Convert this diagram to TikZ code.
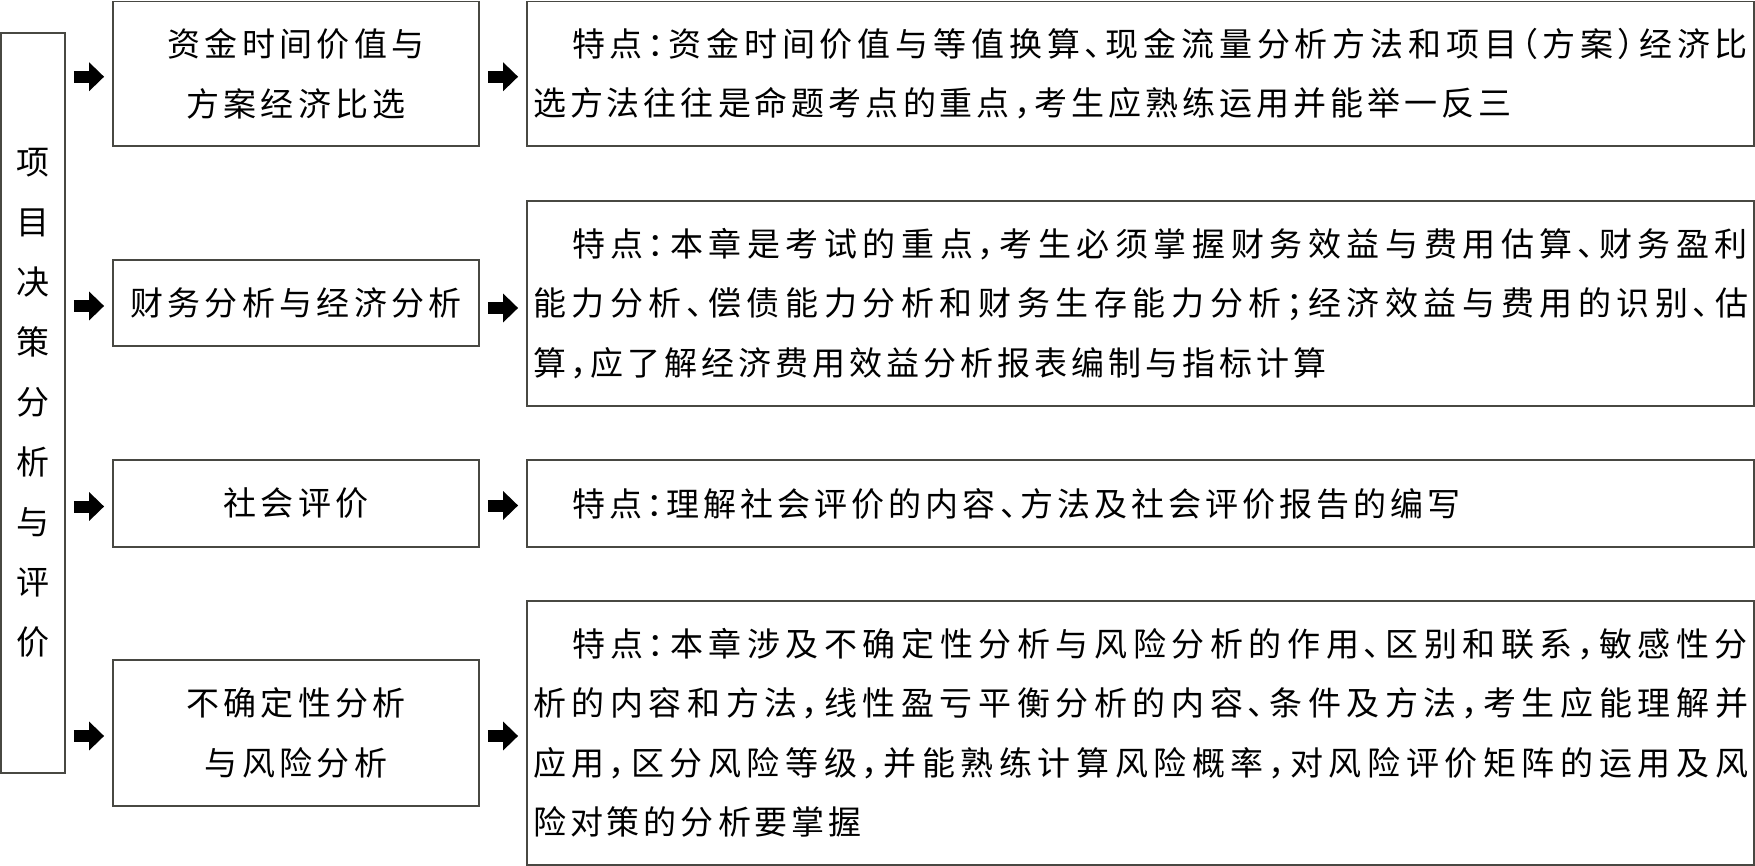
\documentclass[tikz,border=0pt]{standalone}
\usepackage{fontspec}
\setmainfont{Noto Sans CJK SC}[LetterSpace=13,RawFeature={+halt}]
\usetikzlibrary{arrows.meta,calc}
\XeTeXlinebreaklocale "zh"
\XeTeXlinebreakskip=4pt plus 8pt
\definecolor{boxgray}{RGB}{72,72,66}
\tikzset{
  box/.style={draw=boxgray, line width=1.8pt, inner sep=0pt, fill=white},
  midbox/.style={box, align=center, minimum width=366pt, font=\fontsize{33}{59.5}\selectfont},
  descbox/.style={box, text width=1215pt, inner xsep=6pt, inner ysep=0pt, align=justify, font=\fontsize{33}{59.5}\selectfont},
  leftbox/.style={box, align=center, minimum width=64pt, minimum height=740pt, font=\fontsize{33}{60}\selectfont},
  blockarrow/.style={line width=12pt, -{Triangle[length=15pt,width=28pt]}, black, shorten <=8pt, shorten >=8pt},
}
\begin{document}
\begin{tikzpicture}[x={(1pt,0)}, y={(0,-1pt)}]
\useasboundingbox[fill=white] (0,0) rectangle (1755,866);
% left vertical box
\node[leftbox] (L) at (33,403) {项\\目\\决\\策\\分\\析\\与\\评\\价};
% middle boxes
\node[midbox, minimum height=144.5pt] (B1) at (296,73.75) {资金时间价值与\\方案经济比选};
\node[midbox, minimum height=86pt] (B2) at (296,303) {财务分析与经济分析};
\node[midbox, minimum height=87pt] (B3) at (296,503.5) {社会评价};
\node[midbox, minimum height=146pt] (B4) at (296,733) {不确定性分析\\与风险分析};
% description boxes
\node[descbox, minimum height=144.5pt] (R1) at (1140.5,73.75) {\noindent\hspace*{39pt}特点：资金时间价值与等值换算、现金流量分析方法和项目（方案）经济比\linebreak 选方法往往是命题考点的重点，考生应熟练运用并能举一反三};
\node[descbox, minimum height=205pt] (R2) at (1140.5,303.5) {\noindent\hspace*{39pt}特点：本章是考试的重点，考生必须掌握财务效益与费用估算、财务盈利\linebreak 能力分析、偿债能力分析和财务生存能力分析；经济效益与费用的识别、估\linebreak 算，应了解经济费用效益分析报表编制与指标计算};
\node[descbox, minimum height=87pt] (R3) at (1140.5,503.5) {\noindent\hspace*{39pt}特点：理解社会评价的内容、方法及社会评价报告的编写};
\node[descbox, minimum height=264pt] (R4) at (1140.5,733) {\noindent\hspace*{39pt}特点：本章涉及不确定性分析与风险分析的作用、区别和联系，敏感性分\linebreak 析的内容和方法，线性盈亏平衡分析的内容、条件及方法，考生应能理解并\linebreak 应用，区分风险等级，并能熟练计算风险概率，对风险评价矩阵的运用及风\linebreak 险对策的分析要掌握};
% arrows left -> middle
\foreach \b in {B1,B2,B3,B4}{
  \draw[blockarrow] ($(L.east |- \b.west)+(0,3)$) -- ($(\b.west)+(0,3)$);
}
% arrows middle -> right
\draw[blockarrow] ($(B1.east)+(0,3)$) -- ($(B1.east -| R1.west)+(0,3)$);
\draw[blockarrow] ($(B2.east)+(0,5)$) -- ($(B2.east -| R2.west)+(0,5)$);
\draw[blockarrow] ($(B3.east)+(0,2)$) -- ($(B3.east -| R3.west)+(0,2)$);
\draw[blockarrow] ($(B4.east)+(0,3)$) -- ($(B4.east -| R4.west)+(0,3)$);
\end{tikzpicture}
\end{document}
